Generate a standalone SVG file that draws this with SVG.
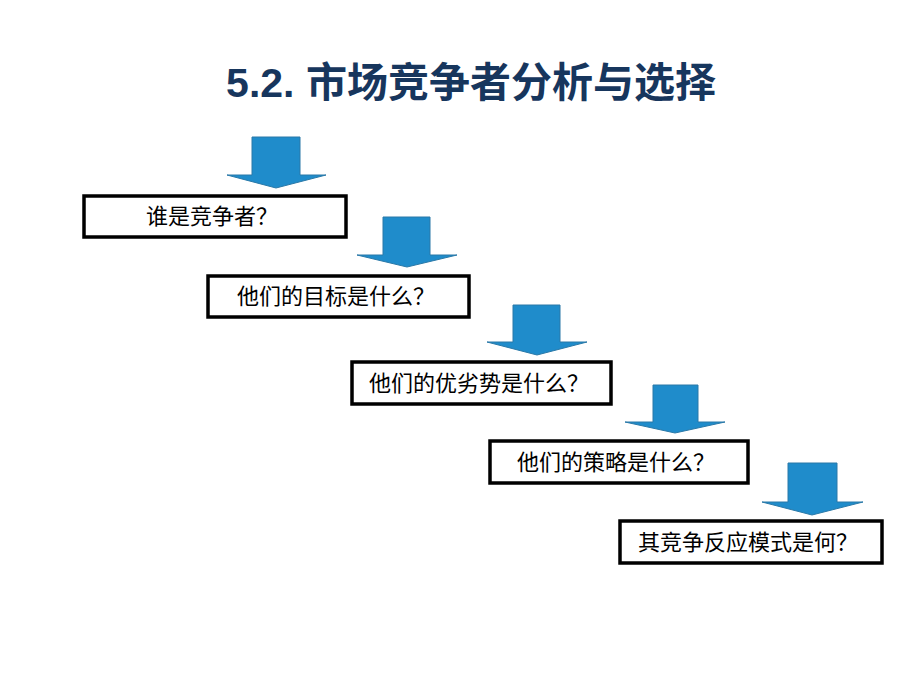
<svg xmlns="http://www.w3.org/2000/svg" width="920" height="690" viewBox="0 0 920 690">
<style>
.box{fill:#fff;stroke:#000;stroke-width:3.5}
.arr{fill:#1f8ccb;stroke:#2a79a8;stroke-width:1}
.lbl{font-family:"Noto Sans CJK SC","Liberation Sans",sans-serif;font-size:22px;fill:#000;text-anchor:middle}
.title{font-family:"Liberation Sans","Noto Sans CJK SC",sans-serif;font-size:41px;font-weight:bold;fill:#17365d;text-anchor:middle}
</style>
<rect width="920" height="690" fill="#fff"/>
<text class="title" x="471" y="97">5.2. 市场竞争者分析与选择</text>
<g id="connectors">
<polygon class="arr" points="252,137 300,137 300,175 326,175 276,188 227,175 252,175"/>
<polygon class="arr" points="383,217 430,217 430,255 457,255 407,267 357,255 383,255"/>
<polygon class="arr" points="513,305 560,305 560,342 587,342 537,355 487,342 513,342"/>
<polygon class="arr" points="653,385 698,385 698,422 725,422 675,433 625,422 653,422"/>
<polygon class="arr" points="788,463 837,463 837,502 863,502 812,515 762,502 788,502"/>
</g>
<g id="n1"><rect class="box" x="84" y="196" width="262" height="41"/><text class="lbl" x="212" y="224">谁是竞争者？</text></g>
<g id="n2"><rect class="box" x="208" y="276" width="261" height="41"/><text class="lbl" x="336" y="304">他们的目标是什么？</text></g>
<g id="n3"><rect class="box" x="352" y="362" width="259" height="42"/><text class="lbl" x="479" y="391">他们的优劣势是什么？</text></g>
<g id="n4"><rect class="box" x="490" y="441" width="258" height="42"/><text class="lbl" x="616" y="470">他们的策略是什么？</text></g>
<g id="n5"><rect class="box" x="620" y="521" width="262" height="42"/><text class="lbl" x="748" y="550">其竞争反应模式是何？</text></g>
</svg>
